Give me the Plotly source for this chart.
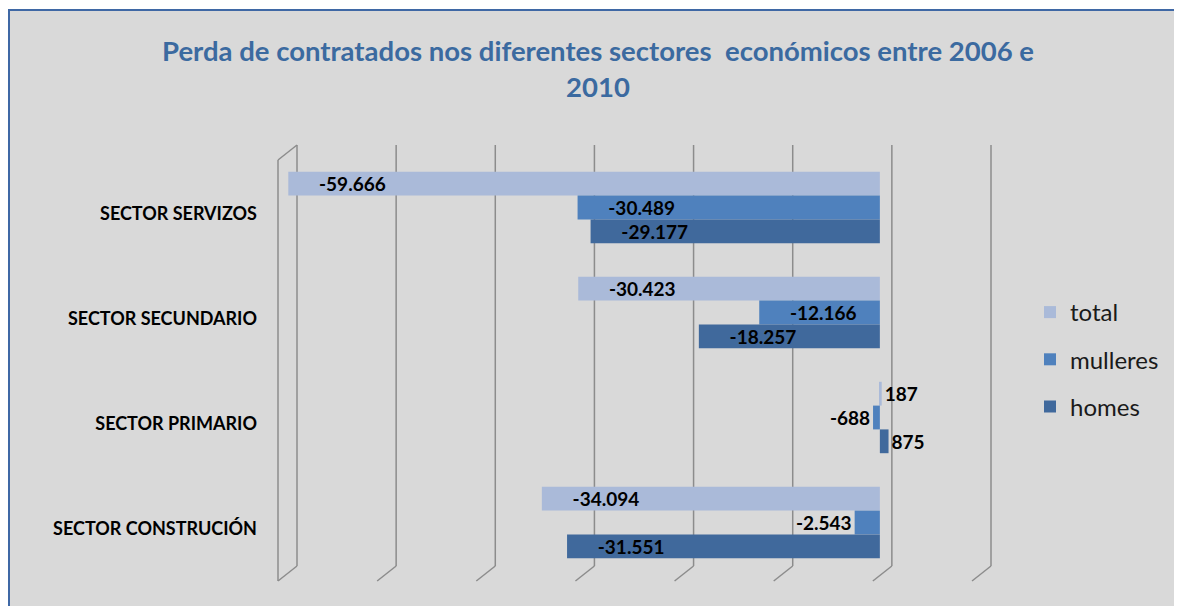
import plotly.graph_objects as go

# data
sectors = ["SECTOR SERVIZOS", "SECTOR SECUNDARIO", "SECTOR PRIMARIO", "SECTOR CONSTRUCIÓN"]
total = [-59666, -30423, 187, -34094]
mulleres = [-30489, -12166, -688, -2543]
homes = [-29177, -18257, 875, -31551]
grid_values = [-60000, -50000, -40000, -30000, -20000, -10000, 0, 10000]

# page has an 8px body margin, so positions below are screen pixels minus OFF
OFF = 8
W, H = 1182, 606
L, R, T, B = 285 - OFF, 1182 - (979 - OFF), 155 - OFF, 606 - (575 - OFF)
PW, PH = W - L - R, H - T - B
XMIN, XMAX = -60000, 10000


def px_x(v):
    # screen x of an axis value
    return L + OFF + (v - XMIN) / (XMAX - XMIN) * PW


def paper_x(X):
    return (X - OFF - L) / PW


def paper_y(Y):
    return (H - B - (Y - OFF)) / PH


def pos(vals):
    return ["inside" if abs(v) > 5000 else "outside" for v in vals]


pad = "\u00a0" * 6

fig = go.Figure()
series = [("total", total, "#aabad9"), ("mulleres", mulleres, "#4f81bd"), ("homes", homes, "#40699c")]
for name, vals, col in series:
    fig.add_trace(go.Bar(
        name=name, y=sectors, x=vals, orientation="h",
        marker=dict(color=col, line=dict(width=0)),
        text=vals,
        texttemplate=[pad + "%{x:,.0f}" if p == "inside" else "%{x:,.0f}" for p in pos(vals)],
        textposition=pos(vals),
        insidetextanchor="end", constraintext="none",
        textfont=dict(color="black", size=19, family="Lato", weight="bold"),
        legendgroup=name, cliponaxis=False,
    ))

shapes = []
# background panel with blue border
shapes.append(dict(type="rect", xref="paper", yref="paper",
                   x0=paper_x(9), x1=paper_x(1300), y0=paper_y(700), y1=paper_y(10),
                   fillcolor="#d9d9d9", line=dict(color="#3f68a5", width=2), layer="below"))
# 3D-style gridlines
gc = "#8c8c8c"
for v in grid_values:
    bx = px_x(v) + 12
    fx = px_x(v) - 7
    shapes.append(dict(type="line", xref="paper", yref="paper",
                       x0=paper_x(bx), x1=paper_x(bx), y0=paper_y(145), y1=paper_y(566),
                       line=dict(color=gc, width=1.5), layer="below"))
    shapes.append(dict(type="line", xref="paper", yref="paper",
                       x0=paper_x(bx), x1=paper_x(fx), y0=paper_y(566), y1=paper_y(581),
                       line=dict(color=gc, width=1.5), layer="below"))
# left wall
lx_b = px_x(XMIN) + 12
lx_f = px_x(XMIN) - 7
shapes.append(dict(type="line", xref="paper", yref="paper",
                   x0=paper_x(lx_f), x1=paper_x(lx_f), y0=paper_y(160), y1=paper_y(581),
                   line=dict(color=gc, width=1.5), layer="below"))
shapes.append(dict(type="line", xref="paper", yref="paper",
                   x0=paper_x(lx_f), x1=paper_x(lx_b), y0=paper_y(160), y1=paper_y(145),
                   line=dict(color=gc, width=1.5), layer="below"))

fig.update_layout(
    width=W, height=H,
    margin=dict(l=L, r=R, t=T, b=B),
    paper_bgcolor="white", plot_bgcolor="rgba(0,0,0,0)",
    barmode="group", bargap=0.32, bargroupgap=0,
    separators=",.",
    shapes=shapes,
    showlegend=True,
    legend=dict(x=paper_x(1030), y=paper_y(290), xanchor="left", yanchor="top",
                font=dict(size=24, family="Lato", color="#1a1a1a"),
                tracegroupgap=13, bgcolor="rgba(0,0,0,0)", traceorder="grouped"),
    xaxis=dict(range=[XMIN, XMAX], showgrid=False, zeroline=False,
               showticklabels=False, showline=False, fixedrange=True),
    yaxis=dict(categoryorder="array", categoryarray=sectors, autorange="reversed",
               showgrid=False, zeroline=False, showline=False, ticks="",
               ticklabelstandoff=27, ticklabelshift=-6,
               tickfont=dict(size=18, family="Lato", color="black", weight="bold")),
    annotations=[dict(
        text="Perda de contratados nos diferentes sectores  económicos entre 2006 e<br>2010",
        xref="paper", yref="paper", x=paper_x(598), y=paper_y(68),
        xanchor="center", yanchor="middle", showarrow=False, align="center",
        font=dict(size=27.5, family="Lato", color="#3b6aa0", weight="bold"),
    )],
)

fig.write_html("out.html")
